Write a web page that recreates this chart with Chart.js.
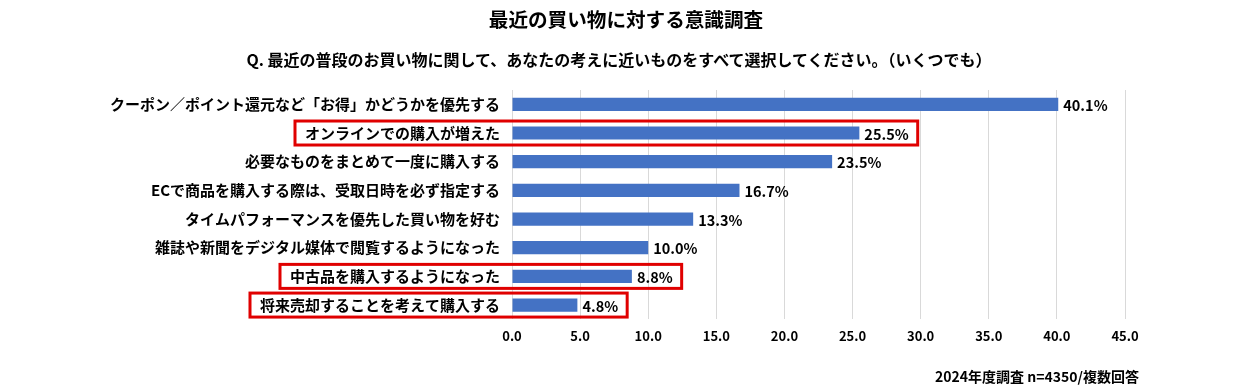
<!DOCTYPE html>
<html>
<head>
<meta charset="utf-8">
<script src="https://cdn.jsdelivr.net/npm/chart.js@4"></script>
<style>
body{margin:0;background:#fff;}
#wrap{position:relative;width:1250px;height:391px;font-family:"Noto Sans CJK JP","Noto Sans",sans-serif;font-weight:bold;color:#000;}
#title{position:absolute;left:0;top:5px;width:1252px;text-align:center;font-size:19.6px;line-height:28px;}
#subtitle{position:absolute;left:0;top:47px;width:1238px;text-align:center;font-size:16px;line-height:24px;}
#footer{position:absolute;right:111px;top:365px;font-size:14px;line-height:22px;}
canvas{position:absolute;left:0;top:0;}
</style>
</head>
<body>
<div id="wrap">
<canvas id="myChart" width="1250" height="391"></canvas>
<div id="title">最近の買い物に対する意識調査</div>
<div id="subtitle">Q. 最近の普段のお買い物に関して、あなたの考えに近いものをすべて選択してください。（いくつでも）</div>
<div id="footer">2024年度調査 n=4350/複数回答</div>
</div>
<script>

// data
const categories = [
    "クーポン／ポイント還元など「お得」かどうかを優先する",
    "オンラインでの購入が増えた",
    "必要なものをまとめて一度に購入する",
    "ECで商品を購入する際は、受取日時を必ず指定する",
    "タイムパフォーマンスを優先した買い物を好む",
    "雑誌や新聞をデジタル媒体で閲覧するようになった",
    "中古品を購入するようになった",
    "将来売却することを考えて購入する"
];
const values = [40.1, 25.5, 23.5, 16.7, 13.3, 10.0, 8.8, 4.8];
// rows that get the red frame
const highlighted = [
    "オンラインでの購入が増えた",
    "中古品を購入するようになった",
    "将来売却することを考えて購入する"
];
const xMin = 0;
const xMax = 45;
const xStep = 5;

const fontFamily = '"Noto Sans CJK JP", "Noto Sans", sans-serif';
const labelFont = {family: fontFamily, size: 15, weight: "bold"};
const yPadding = 12;

// value labels + red frames
const barExtras = {
    id: "barExtras",
    afterDatasetsDraw(chart) {
        const ctx = chart.ctx;
        const meta = chart.getDatasetMeta(0);
        const yScale = chart.scales.y;
        ctx.save();
        ctx.font = "bold 14.5px " + fontFamily;
        ctx.textBaseline = "middle";
        ctx.fillStyle = "#000";
        ctx.textAlign = "left";
        meta.data.forEach((bar, i) => {
            ctx.fillText(values[i].toFixed(1) + "%", bar.x + 5, bar.y + 1);
        });

        ctx.strokeStyle = "#e00000";
        ctx.lineWidth = 3;
        meta.data.forEach((bar, i) => {
            if (highlighted.indexOf(categories[i]) < 0) return;
            ctx.font = "bold 14.5px " + fontFamily;
            let valW = ctx.measureText(values[i].toFixed(1) + "%").width;
            ctx.font = "bold 15px " + fontFamily;
            let labelW = ctx.measureText(categories[i]).width;
            let left = yScale.right - yPadding - labelW - 10;
            let right = bar.x + 5 + valW + 9;
            ctx.strokeRect(left, bar.y - 12, right - left, 24);
        });
        ctx.restore();
    }
};

new Chart("myChart", {
    type: "bar",
    data: {
        labels: categories,
        datasets: [{
            data: values,
            backgroundColor: "#4472c4",
            categoryPercentage: 1,
            barPercentage: 0.46
        }]
    },
    options: {
        indexAxis: "y",
        responsive: false,
        animation: false,
        layout: {padding: {top: 90, bottom: 38, right: 125, left: 0}},
        plugins: {
            legend: {display: false},
            tooltip: {enabled: false}
        },
        scales: {
            x: {
                min: xMin,
                max: xMax,
                ticks: {
                    stepSize: xStep,
                    padding: 9,
                    color: "#000",
                    font: {family: fontFamily, size: 13, weight: "bold"},
                    callback: (v) => Number(v).toFixed(1)
                },
                grid: {color: "#d9d9d9", drawTicks: false},
                border: {display: false}
            },
            y: {
                ticks: {
                    padding: yPadding,
                    color: "#000",
                    font: labelFont
                },
                grid: {display: false, drawTicks: false},
                border: {display: false},
                afterFit: (s) => { s.width = 512; }
            }
        }
    },
    plugins: [barExtras]
});
</script>
</body>
</html>
